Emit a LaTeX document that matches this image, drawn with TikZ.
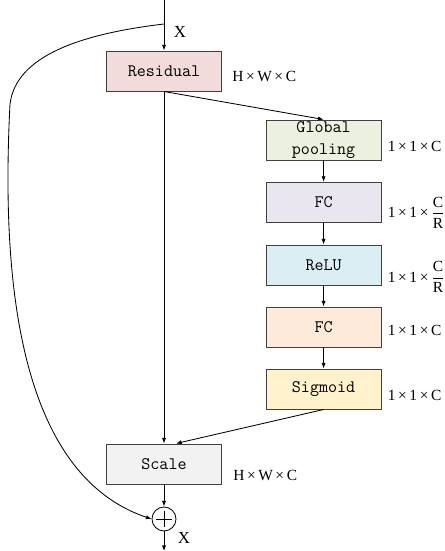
\documentclass[tikz,border=0pt]{standalone}
\usepackage{fontspec}
\usepackage{amsmath}
\setmainfont{Liberation Serif}
\usetikzlibrary{arrows.meta,positioning,calc}
\definecolor{edgegray}{RGB}{64, 64, 64}
\definecolor{resred}{RGB}{242, 220, 219}
\definecolor{poolgreen}{RGB}{235, 241, 222}
\definecolor{fclilac}{RGB}{234, 230, 240}
\definecolor{relublue}{RGB}{218, 238, 243}
\definecolor{fcpeach}{RGB}{253, 234, 218}
\definecolor{sigyellow}{RGB}{255, 242, 204}
\definecolor{scalegray}{RGB}{242, 242, 242}

\begin{document}
\begin{tikzpicture}[
    block/.style={
        rectangle,
        minimum width=2.875cm,
        minimum height=1cm,
        align=center,
        font=\fontsize{12.5}{13}\selectfont\ttfamily,
        draw=edgegray,
        line width=0.7pt
    },
    dim/.style={inner sep=0pt, anchor=west, font=\fontsize{11}{13}\selectfont},
    adder/.style={
        circle, draw, line width=0.6pt, minimum size=0.6cm, inner sep=0pt,
        path picture={
            \draw[line width=0.5pt] ($(path picture bounding box.center)+(-0.19,0)$) -- ($(path picture bounding box.center)+(0.19,0)$);
            \draw[line width=0.5pt] ($(path picture bounding box.center)+(0,-0.19)$) -- ($(path picture bounding box.center)+(0,0.19)$);
        }
    },
    arrow/.style={-{Latex[length=4pt,width=3pt]},line width=0.6pt}
]
    \useasboundingbox (0,0) rectangle (11.125,-13.775);

    % Main branch
    \coordinate (in) at (4.1,0);
    \coordinate (split) at (4.1,-0.6);
    \node[block, fill=resred] (res) at (4.1,-1.775) {Residual};
    \node[block, fill=scalegray] (scale) at (4.1,-11.6) {Scale};
    \node[adder] (add) at (4.1,-12.975) {};
    \coordinate (out) at (4.1,-13.775);

    % Squeeze and excitation branch
    \node[block, fill=poolgreen, text width=2.6cm, inner ysep=0pt,
          font=\fontsize{12.5}{16}\selectfont\ttfamily] (gpool) at (8.09,-3.5) {Global\\pooling};
    \node[block, fill=fclilac] (fc1) at (8.09,-5.06) {FC};
    \node[block, fill=relublue] (relu) at (8.09,-6.625) {ReLU};
    \node[block, fill=fcpeach] (fc2) at (8.09,-8.175) {FC};
    \node[block, fill=sigyellow] (sig) at (8.09,-9.725) {Sigmoid};

    % Arrows
    \draw[arrow] (in) -- (res);
    \draw[arrow] (res.south) -- (scale.north);
    \draw[arrow] (res.south) -- (gpool.north);
    \draw[arrow] (gpool) -- (fc1);
    \draw[arrow] (fc1) -- (relu);
    \draw[arrow] (relu) -- (fc2);
    \draw[arrow] (fc2) -- (sig);
    \draw[arrow] (sig.south) -- ($(scale.north)+(0.3,0)$);
    \draw[arrow] (scale) -- (add);
    \draw[arrow] (add) -- (out);

    % Skip connection
    \draw[arrow] (split) .. controls (2.0,-0.85) and (0.4,-1.4) .. (0.25,-2.6)
        .. controls (0.05,-6.5) and (0.3,-11.8) .. (add.west);

    % Labels
    \node[font=\fontsize{12}{13}\selectfont] (xin) at (4.5,-0.8) {X};
    \node[font=\fontsize{12}{13}\selectfont] (xout) at (4.6,-13.45) {X};
    \node[dim, right=0.25cm of res, yshift=-0.125cm] {H\,×\,W\,×\,C};
    \node[dim, right=0.275cm of scale, yshift=-0.275cm] {H\,×\,W\,×\,C};
    \node[dim, right=0.15cm of gpool, yshift=-0.15cm] {1\,×\,1\,×\,C};
    \node[dim, right=0.15cm of fc1, yshift=-0.25cm] {1\,×\,1\,×\,$\dfrac{\text{C}}{\text{R}}$};
    \node[dim, right=0.15cm of relu, yshift=-0.3cm] {1\,×\,1\,×\,$\dfrac{\text{C}}{\text{R}}$};
    \node[dim, right=0.15cm of fc2, yshift=-0.08cm] {1\,×\,1\,×\,C};
    \node[dim, right=0.15cm of sig, yshift=-0.15cm] {1\,×\,1\,×\,C};
\end{tikzpicture}
\end{document}
